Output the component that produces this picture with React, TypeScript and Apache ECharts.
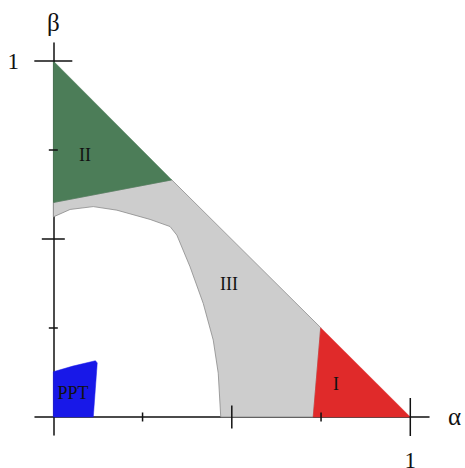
import React, { useEffect, useRef } from "react";
import * as echarts from "echarts";

// Region boundaries in (α, β) data coordinates
const regionII: number[][] = [
  [0, 1],
  [0.332, 0.666],
  [0, 0.6025],
];
const regionI: number[][] = [
  [0.749, 0.251],
  [1, 0],
  [0.728, 0],
];
const innerCurve: number[][] = [
  [0.469, 0],
  [0.462, 0.123],
  [0.448, 0.216],
  [0.42, 0.319],
  [0.383, 0.422],
  [0.346, 0.511],
  [0.327, 0.535],
  [0.271, 0.555],
  [0.178, 0.581],
  [0.112, 0.591],
  [0.047, 0.583],
  [0, 0.562],
];
const regionIII: number[][] = [
  [0, 0.6025],
  [0.332, 0.666],
  [0.749, 0.251],
  [0.728, 0],
  ...innerCurve,
];
const regionPPT: number[][] = [
  [0, 0],
  [0, 0.127],
  [0.055, 0.143],
  [0.118, 0.158],
  [0.123, 0.152],
  [0.112, 0],
];
const regionNames = ["II", "III", "I", "PPT"];
const labelPositions: number[][] = [
  [0.089, 0.736],
  [0.492, 0.374],
  [0.792, 0.093],
  [0.055, 0.067],
];
const alphaTicks = [0.25, 0.5, 0.75, 1];
const betaTicks = [0.25, 0.5, 0.75, 1];
const axisTickLabels = ["1"];

const FONT = "Liberation Serif";

function tickHalf(v: number) {
  if (v === 1) return 19;
  if (v === 0.5) return 11.5;
  return 4.5;
}

function regionSeries(name: string, pts: number[][], fill: string, stroke?: string) {
  return {
    type: "custom",
    name,
    silent: true,
    clip: false,
    data: pts,
    encode: { x: 0, y: 1 },
    renderItem: (params: any, api: any) => {
      if (params.dataIndex !== 0) return null;
      const points = pts.map((p) => api.coord(p));
      return {
        type: "polygon",
        shape: { points },
        style: {
          fill,
          stroke: stroke || fill,
          lineWidth: stroke ? 0.8 : 0.5,
        },
      };
    },
  };
}

export default function App() {
  const ref = useRef<HTMLDivElement>(null);
  useEffect(() => {
    if (!ref.current) return;
    const chart = echarts.init(ref.current, null, { renderer: "svg" });
    const option: any = {
      animation: false,
      backgroundColor: "#ffffff",
      grid: { left: 35, right: 36, top: 43, bottom: 33, containLabel: false, outerBoundsMode: "none" },
      xAxis: {
        type: "value",
        min: -0.0513,
        max: 1.0524,
        name: "α",
        nameLocation: "end",
        nameGap: 19,
        nameTextStyle: { fontFamily: FONT, fontSize: 25, color: "#111", verticalAlign: "middle" },
        axisLine: { show: true, onZero: true, lineStyle: { color: "#111", width: 1.5 } },
        axisTick: { show: false },
        splitLine: { show: false },
        axisLabel: {
          show: true,
          customValues: [1],
          formatter: () => axisTickLabels[0],
          margin: 14,
          fontFamily: FONT,
          fontSize: 23,
          color: "#111",
        },
      },
      yAxis: {
        type: "value",
        min: -0.0506,
        max: 1.0506,
        name: "β",
        nameLocation: "end",
        nameGap: 8,
        nameTextStyle: { fontFamily: FONT, fontSize: 25, color: "#111", align: "center", verticalAlign: "bottom" },
        axisLine: { show: true, onZero: true, lineStyle: { color: "#111", width: 1.5 } },
        axisTick: { show: false },
        splitLine: { show: false },
        axisLabel: {
          show: true,
          customValues: [1],
          formatter: () => axisTickLabels[0],
          margin: 16,
          fontFamily: FONT,
          fontSize: 23,
          color: "#111",
        },
      },
      series: [
        regionSeries("III", regionIII, "#cdcdcd", "#8a8a8a"),
        regionSeries("II", regionII, "#4c7d58"),
        regionSeries("I", regionI, "#e02a2a"),
        regionSeries("PPT", regionPPT, "#1818e8"),
        {
          type: "custom",
          name: "labels",
          silent: true,
          clip: false,
          data: labelPositions.map((p, i) => [p[0], p[1], i]),
          encode: { x: 0, y: 1 },
          renderItem: (params: any, api: any) => {
            const p = api.coord([api.value(0), api.value(1)]);
            return {
              type: "text",
              x: p[0],
              y: p[1],
              style: {
                text: regionNames[api.value(2)],
                fontFamily: FONT,
                fontSize: 18,
                fill: "#111",
                align: "center",
                verticalAlign: "middle",
              },
            };
          },
        },
        {
          type: "custom",
          name: "alphaTicks",
          silent: true,
          clip: false,
          data: alphaTicks.map((v) => [v, 0]),
          encode: { x: 0, y: 1 },
          renderItem: (params: any, api: any) => {
            const v = api.value(0);
            const p = api.coord([v, 0]);
            const h = tickHalf(v);
            return {
              type: "line",
              shape: { x1: p[0], y1: p[1] - h, x2: p[0], y2: p[1] + h },
              style: { stroke: "#111", lineWidth: 1.5 },
            };
          },
        },
        {
          type: "custom",
          name: "betaTicks",
          silent: true,
          clip: false,
          data: betaTicks.map((v) => [0, v]),
          encode: { x: 0, y: 1 },
          renderItem: (params: any, api: any) => {
            const v = api.value(1);
            const p = api.coord([0, v]);
            const h = tickHalf(v);
            return {
              type: "line",
              shape: { x1: p[0] - h, y1: p[1], x2: p[0] + h, y2: p[1] },
              style: { stroke: "#111", lineWidth: 1.5 },
            };
          },
        },
      ],
    };
    chart.setOption(option);
    return () => chart.dispose();
  }, []);
  return (
    <div
      ref={ref}
      style={{ position: "fixed", left: 0, top: 0, width: 465, height: 468 }}
    />
  );
}
